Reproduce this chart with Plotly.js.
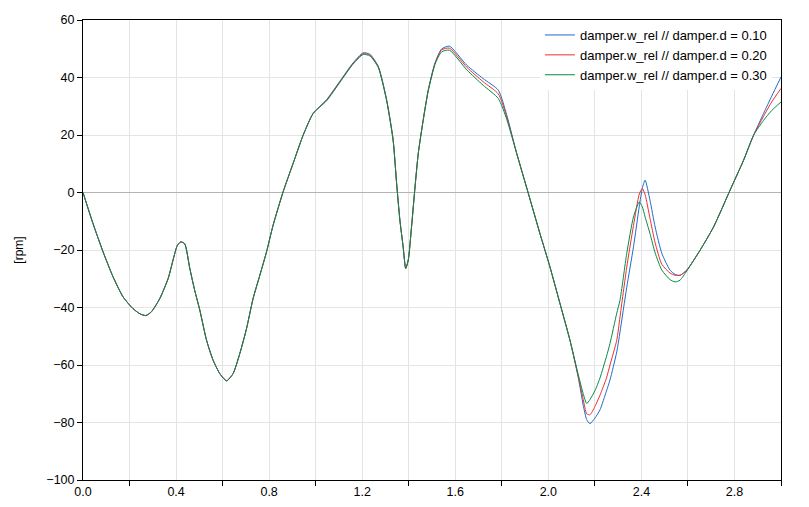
<!DOCTYPE html>
<html>
<head>
<meta charset="utf-8">
<script src="https://cdn.plot.ly/plotly-3.0.1.min.js"></script>
<style>html,body{margin:0;padding:0;background:#fff;}#chart{width:809px;height:507px;}</style>
</head>
<body>
<div id="chart"></div>
<script>
// time [s]
var time = [0.000,0.043,0.086,0.129,0.172,0.215,0.245,0.270,0.294,0.330,0.366,0.387,0.405,0.420,0.437,0.459,0.480,0.502,0.531,0.559,0.588,0.617,0.645,0.674,0.703,0.731,0.760,0.789,0.817,0.860,0.903,0.946,0.989,1.047,1.104,1.161,1.204,1.233,1.269,1.305,1.333,1.348,1.362,1.376,1.387,1.398,1.412,1.427,1.441,1.462,1.484,1.513,1.541,1.575,1.649,1.720,1.785,1.821,1.864,1.914,1.964,2.007,2.050,2.093,2.129,2.150,2.165,2.179,2.200,2.222,2.250,2.265,2.294,2.308,2.337,2.366,2.391,2.404,2.416,2.437,2.459,2.488,2.523,2.545,2.566,2.595,2.652,2.710,2.781,2.839,2.882,2.925,2.960,3.000];

// damper.d = 0.10
var w_d010 = [0,-10.8,-20.6,-29.3,-36.3,-40.4,-42.2,-42.8,-41.5,-36.9,-29.9,-23.5,-18.5,-17.2,-17.8,-26.4,-34,-40.9,-51.4,-58.3,-63,-65.5,-63,-56,-47.3,-36.9,-28.8,-20.6,-11.4,0.2,10.1,19.9,27.5,32.3,38.7,45.1,48.6,48.1,43.9,32.3,18.4,3.2,-9.6,-18.9,-26.4,-23.5,-12,1.9,13.6,25.1,35.7,45.1,49.9,50.9,44.3,39.6,35.6,27,13.6,-0.3,-14.3,-25.9,-38.6,-51.4,-64.5,-74,-79,-80.4,-78.5,-75.6,-69,-65.2,-55.5,-48.5,-33,-18.9,-4.8,1.5,4.3,-2.7,-12,-21.2,-27,-28.5,-28.8,-27,-20.1,-12,0.8,11.2,19.9,27.5,33.5,40.2];

// damper.d = 0.20
var w_d020 = [0,-10.8,-20.6,-29.3,-36.3,-40.4,-42.2,-42.8,-41.5,-36.9,-29.9,-23.5,-18.5,-17.2,-17.8,-26.4,-34,-40.9,-51.4,-58.3,-63,-65.5,-63,-56,-47.3,-36.9,-28.8,-20.6,-11.4,0.2,10.1,19.9,27.5,32.1,38.5,44.9,48.3,47.8,43.7,32.1,18.2,3.1,-9.6,-18.9,-26.4,-23.5,-12,1.9,13.6,25.1,35.6,44.9,49.6,50.2,43.6,38.5,34.3,26.3,13.6,-0.3,-14.3,-25.9,-38.6,-51.4,-64.1,-72,-77,-77.3,-74.5,-70.5,-64.5,-60,-51.4,-43.3,-26,-11.5,-0.5,1.4,-0.8,-9,-17.5,-25,-28,-28.8,-28.8,-27,-20.1,-12,0.8,11.2,19.9,26.5,31.5,36.2];

// damper.d = 0.30
var w_d030 = [0,-10.8,-20.6,-29.3,-36.3,-40.4,-42.2,-42.8,-41.5,-36.9,-29.9,-23.5,-18.5,-17.2,-17.8,-26.4,-34,-40.9,-51.4,-58.3,-63,-65.5,-63,-56,-47.3,-36.9,-28.8,-20.6,-11.4,0.2,10.1,19.9,27.5,31.9,38.3,44.7,48.0,47.5,43.5,31.9,18.0,3.0,-9.6,-18.9,-26.4,-23.5,-12,1.9,13.6,25.1,35.4,44.6,48.9,49.5,42.7,37.3,32.7,25.5,13.6,-0.3,-14.3,-25.9,-38.6,-51.4,-63.5,-70,-73.4,-72,-69,-64.5,-57,-52.5,-42,-37.5,-21.2,-8.5,-3.3,-5,-8.5,-14.3,-21,-27,-30.3,-31.1,-30.5,-27.3,-20.1,-12,0.8,11.2,19.9,25.1,28.5,31.5];

var seriesNames = ["damper.w_rel // damper.d = 0.10","damper.w_rel // damper.d = 0.20","damper.w_rel // damper.d = 0.30"];
var seriesColors = ["rgb(28,108,200)","rgb(238,46,47)","rgb(0,140,72)"];
var seriesValues = [w_d010, w_d020, w_d030];

var traces = seriesValues.map(function(v, i){
  return {x: time, y: v, type: 'scatter', mode: 'lines', name: seriesNames[i],
          line: {color: seriesColors[i], width: 1, shape: 'spline', smoothing: 0.6}};
});

var layout = {
  width: 809, height: 507,
  margin: {l: 83, r: 28, t: 20, b: 27},
  paper_bgcolor: '#fff', plot_bgcolor: '#fff',
  font: {family: 'Liberation Sans, Arial, sans-serif', size: 12, color: '#000'},
  showlegend: true,
  legend: {x: 0.987, y: 1, xanchor: 'right', yanchor: 'top', bgcolor: '#fff', borderwidth: 0,
           font: {family: 'Liberation Sans, Arial, sans-serif', size: 13, color: '#000'}},
  xaxis: {range: [0, 3], dtick: 0.4, tick0: 0, tickformat: '.1f', ticks: '', showgrid: true,
          gridcolor: '#e4e4e4', gridwidth: 1, showline: true, linecolor: '#000', linewidth: 1, mirror: true,
          zeroline: false, tickfont: {size: 12.5},
          minor: {tick0: 0.2, dtick: 0.4, ticks: 'outside', ticklen: 5, tickcolor: '#000', showgrid: true, gridcolor: '#e4e4e4', gridwidth: 1}},
  yaxis: {range: [-100, 60], dtick: 20, ticks: 'outside', ticklen: 5, tickcolor: '#000', showgrid: true,
          gridcolor: '#e4e4e4', gridwidth: 1, showline: true, linecolor: '#000', linewidth: 1, mirror: true,
          zeroline: true, zerolinecolor: '#b4b4b4', zerolinewidth: 1, tickfont: {size: 12.5},
          title: {text: '[rpm]', font: {size: 12}, standoff: 20}}
};

Plotly.newPlot('chart', traces, layout, {displayModeBar: false, staticPlot: true});
</script>
</body>
</html>
